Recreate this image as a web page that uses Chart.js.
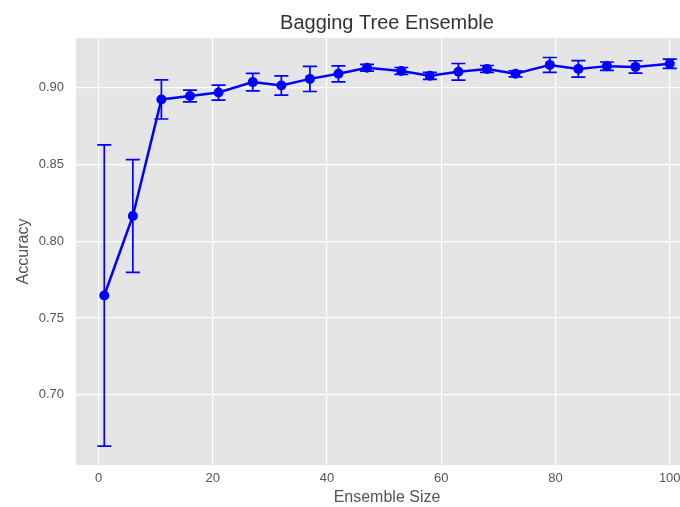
<!DOCTYPE html>
<html>
<head>
<meta charset="utf-8">
<script src="https://cdn.jsdelivr.net/npm/chart.js@4/dist/chart.umd.min.js"></script>
<style>
  html, body { margin: 0; padding: 0; background: #fff; overflow: hidden; }
  #wrap { width: 703px; height: 507px; }
</style>
</head>
<body>
<div id="wrap"><canvas id="chart" width="703" height="507"></canvas></div>
<script>
const ensembleSizes = [1, 6, 11, 16, 21, 27, 32, 37, 42, 47, 53, 58, 63, 68, 73, 79, 84, 89, 94, 100];
const accuracyMean = [0.7647, 0.8164, 0.8922, 0.8945, 0.8967, 0.9035, 0.9013, 0.9056, 0.9089, 0.9128,
  0.9108, 0.9076, 0.9102, 0.9121, 0.9089, 0.9147, 0.9121, 0.9139, 0.9134, 0.9154];
const accuracyErr = [0.0980, 0.0367, 0.0127, 0.0038, 0.0049, 0.0057, 0.0062, 0.0082, 0.0052, 0.0022,
  0.0022, 0.0023, 0.0054, 0.0022, 0.0020, 0.0048, 0.0054, 0.0027, 0.0040, 0.0030];
const xTicks = [0, 20, 40, 60, 80, 100];
const yTicks = [0.70, 0.75, 0.80, 0.85, 0.90];

const FONT = "'Liberation Sans', Arial, sans-serif";
const BLUE = "#0000ff";

const panelBackground = {
  id: "panelBackground",
  beforeDraw(chart) {
    const { ctx, chartArea: a } = chart;
    ctx.save();
    ctx.fillStyle = "#e5e5e5";
    ctx.fillRect(a.left, a.top, a.right - a.left, a.bottom - a.top);
    ctx.restore();
  },
  afterDraw(chart) {
    const { ctx, chartArea: a } = chart;
    ctx.save();
    ctx.fillStyle = "#333";
    ctx.font = "20px " + FONT;
    ctx.textAlign = "center";
    ctx.textBaseline = "alphabetic";
    ctx.fillText("Bagging Tree Ensemble", (a.left + a.right) / 2, 29);
    ctx.restore();
  },
};

const errorBars = {
  id: "errorBars",
  beforeDatasetsDraw(chart) {
    const { ctx, scales: { x, y } } = chart;
    ctx.save();
    ctx.strokeStyle = BLUE;
    ctx.lineWidth = 1.7;
    ensembleSizes.forEach((s, i) => {
      const px = x.getPixelForValue(s);
      const top = y.getPixelForValue(accuracyMean[i] + accuracyErr[i]);
      const bot = y.getPixelForValue(accuracyMean[i] - accuracyErr[i]);
      ctx.beginPath();
      ctx.moveTo(px, top);
      ctx.lineTo(px, bot);
      ctx.moveTo(px - 7, top);
      ctx.lineTo(px + 7, top);
      ctx.moveTo(px - 7, bot);
      ctx.lineTo(px + 7, bot);
      ctx.stroke();
    });
    ctx.restore();
  },
};

new Chart(document.getElementById("chart"), {
  type: "line",
  data: {
    datasets: [
      {
        data: ensembleSizes.map((s, i) => ({ x: s, y: accuracyMean[i] })),
        borderColor: BLUE,
        backgroundColor: BLUE,
        borderWidth: 2.5,
        pointRadius: 5,
        pointBackgroundColor: BLUE,
        pointBorderColor: BLUE,
        pointBorderWidth: 0,
        tension: 0,
      },
    ],
  },
  options: {
    responsive: false,
    animation: false,
    layout: {
      padding: { top: 38, right: 0, bottom: 0, left: 0 },
    },
    plugins: {
      legend: { display: false },
      tooltip: { enabled: false },
    },
    scales: {
      x: {
        type: "linear",
        min: -3.95,
        max: 104.95,
        afterBuildTicks: (scale) => {
          scale.ticks = xTicks.map((v) => ({ value: v }));
        },
        afterFit: (scale) => {
          scale.height = 42;
        },
        border: { display: false },
        grid: { color: "#ffffff", lineWidth: 1.2, drawTicks: false },
        ticks: {
          color: "#555",
          font: { family: FONT, size: 13 },
          padding: 6,
          maxRotation: 0,
          callback: (v) => String(v),
        },
        title: {
          display: true,
          text: "Ensemble Size",
          color: "#555",
          font: { family: FONT, size: 16 },
          padding: { top: 0, bottom: 0 },
        },
      },
      y: {
        type: "linear",
        min: 0.6544,
        max: 0.9322,
        afterBuildTicks: (scale) => {
          scale.ticks = yTicks.map((v) => ({ value: v }));
        },
        afterFit: (scale) => {
          scale.width = 76;
        },
        border: { display: false },
        grid: { color: "#ffffff", lineWidth: 1.2, drawTicks: false },
        ticks: {
          color: "#555",
          font: { family: FONT, size: 13 },
          padding: 12,
          callback: (v) => Number(v).toFixed(2),
        },
        title: {
          display: true,
          text: "Accuracy",
          color: "#555",
          font: { family: FONT, size: 16 },
          padding: { top: 14, bottom: 0 },
        },
      },
    },
  },
  plugins: [panelBackground, errorBars],
});
</script>
</body>
</html>
